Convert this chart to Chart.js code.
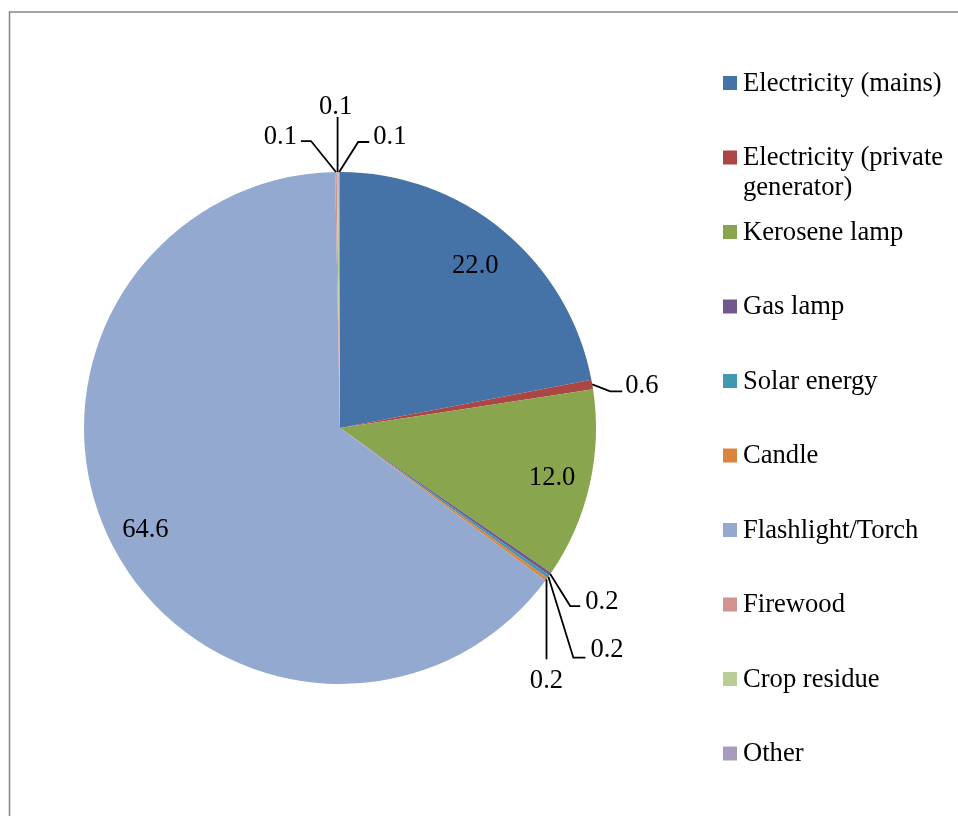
<!DOCTYPE html>
<html>
<head>
<meta charset="utf-8">
<script src="https://cdn.jsdelivr.net/npm/chart.js@4/dist/chart.umd.min.js"></script>
<style>
  html, body { margin: 0; padding: 0; background: #ffffff; }
  #wrap { position: relative; width: 958px; height: 816px; }
</style>
</head>
<body>
<div id="wrap"><canvas id="c" width="958" height="816"></canvas></div>
<script>
// ---- data ----
const categories = [
  'Electricity (mains)',
  'Electricity (private generator)',
  'Kerosene lamp',
  'Gas lamp',
  'Solar energy',
  'Candle',
  'Flashlight/Torch',
  'Firewood',
  'Crop residue',
  'Other'
];
const shares = [22.0, 0.6, 12.0, 0.2, 0.2, 0.2, 64.6, 0.1, 0.1, 0.1];

// ---- style ----
const palette = ['#4572A7', '#AA4643', '#89A54E', '#71588F', '#4198AF',
                 '#DB843D', '#93A9CF', '#D19392', '#B9CD96', '#A99BBD'];
const FONT = '26.6px "Liberation Serif", "Times New Roman", serif';
const TEXT_DY = 2;

// label placement relative to each slice (in = inside slice; lead = leader line from slice edge)
const labelPlacement = [
  { type: 'in', r: 0.83 },
  { type: 'lead', pts: [[18, 7], [30, 7]], text: [33, 0], align: 'left' },
  { type: 'in', r: 0.85 },
  { type: 'lead', pts: [[20, 32], [30, 32]], text: [35, 26], align: 'left' },
  { type: 'lead', pts: [[25, 81], [37, 81]], text: [42, 71], align: 'left' },
  { type: 'lead', pts: [[0, 80]], text: [0, 100], align: 'center' },
  { type: 'in', r: 0.855 },
  { type: 'lead', pts: [[-25, -31], [-35, -31]], text: [-39, -37], align: 'right' },
  { type: 'lead', pts: [[0, -55]], text: [-2, -67], align: 'center' },
  { type: 'lead', pts: [[19, -30], [30, -30]], text: [34, -37], align: 'left' }
];

const frameAndLabels = {
  id: 'frameAndLabels',
  beforeDraw(chart) {
    const ctx = chart.ctx;
    ctx.save();
    ctx.fillStyle = '#ffffff';
    ctx.fillRect(0, 0, chart.width, chart.height);
    ctx.strokeStyle = '#868686';
    ctx.lineWidth = 1.5;
    ctx.beginPath();
    ctx.moveTo(9.5, chart.height);
    ctx.lineTo(9.5, 12);
    ctx.lineTo(chart.width, 12);
    ctx.stroke();
    ctx.restore();
  },
  afterDraw(chart) {
    const ctx = chart.ctx;
    const meta = chart.getDatasetMeta(0);
    const ds = chart.data.datasets[0];
    ctx.save();
    ctx.font = FONT;
    ctx.fillStyle = '#000000';
    ctx.textBaseline = 'middle';
    meta.data.forEach((arc, i) => {
      const p = arc.getProps(['x', 'y', 'startAngle', 'endAngle', 'outerRadius'], true);
      const mid = (p.startAngle + p.endAngle) / 2;
      const txt = ds.data[i].toFixed(1);
      const lp = labelPlacement[i];
      if (lp.type === 'in') {
        const r = p.outerRadius * lp.r;
        ctx.textAlign = 'center';
        ctx.fillText(txt, p.x + Math.cos(mid) * r, p.y + Math.sin(mid) * r + TEXT_DY);
      } else {
        const ax = p.x + Math.cos(mid) * p.outerRadius;
        const ay = p.y + Math.sin(mid) * p.outerRadius;
        ctx.strokeStyle = '#000000';
        ctx.lineWidth = 1.8;
        ctx.beginPath();
        ctx.moveTo(ax, ay);
        lp.pts.forEach(pt => ctx.lineTo(ax + pt[0], ay + pt[1]));
        ctx.stroke();
        ctx.textAlign = lp.align;
        ctx.fillText(txt, ax + lp.text[0], ay + lp.text[1] + TEXT_DY);
      }
    });

    // legend
    const lx = 723, tx = 743, top = 83, step = 74.5, box = 14, maxW = chart.width - tx - 6, lineH = 30;
    ctx.textAlign = 'left';
    chart.data.labels.forEach((lab, i) => {
      const cy = top + i * step;
      ctx.fillStyle = ds.backgroundColor[i];
      ctx.fillRect(lx, cy - box / 2, box, box);
      ctx.fillStyle = '#000000';
      const words = lab.split(' ');
      const lines = [];
      let cur = '';
      words.forEach(w => {
        const test = cur ? cur + ' ' + w : w;
        if (ctx.measureText(test).width > maxW && cur) { lines.push(cur); cur = w; }
        else cur = test;
      });
      lines.push(cur);
      lines.forEach((ln, k) => ctx.fillText(ln, tx, cy + k * lineH + 1));
    });
    ctx.restore();
  }
};

new Chart(document.getElementById('c'), {
  type: 'pie',
  data: {
    labels: categories,
    datasets: [{
      data: shares,
      backgroundColor: palette,
      borderWidth: 0,
      hoverOffset: 0
    }]
  },
  options: {
    responsive: false,
    animation: false,
    rotation: 0,
    layout: { padding: { left: 84, top: 172, right: 362, bottom: 132 } },
    plugins: {
      legend: { display: false },
      tooltip: { enabled: false }
    }
  },
  plugins: [frameAndLabels]
});
</script>
</body>
</html>
